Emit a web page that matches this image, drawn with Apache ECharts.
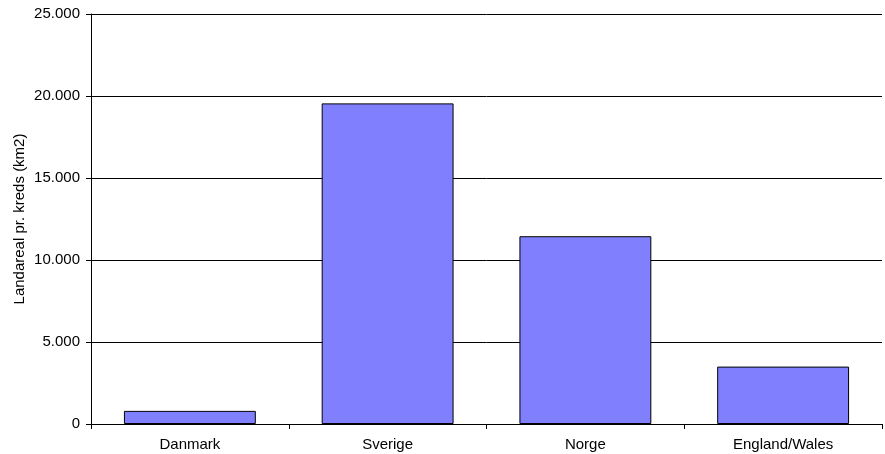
<!DOCTYPE html>
<html>
<head>
<meta charset="utf-8">
<script src="https://cdn.jsdelivr.net/npm/echarts@6/dist/echarts.min.js"></script>
<style>
html,body{margin:0;padding:0;background:#fff;}
#chart{width:885px;height:454px;}
</style>
</head>
<body>
<div id="chart"></div>
<script>
const categories = ['Danmark', 'Sverige', 'Norge', 'England/Wales'];
const values = [800, 19550, 11450, 3500];
const yAxisTitle = 'Landareal pr. kreds (km2)';

const chart = echarts.init(document.getElementById('chart'), null, {renderer: 'canvas'});
const font = 'Liberation Sans, Arial, sans-serif';
chart.setOption({
  animation: false,
  backgroundColor: '#ffffff',
  grid: {left: 91, right: 3, top: 14, bottom: 30, containLabel: false},
  xAxis: {
    type: 'category',
    data: categories,
    boundaryGap: true,
    axisLine: {show: true, lineStyle: {color: '#000', width: 1}},
    axisTick: {show: true, alignWithLabel: false, length: 5, lineStyle: {color: '#000'}},
    axisLabel: {color: '#000', fontFamily: font, fontSize: 15, margin: 13},
    splitLine: {show: false}
  },
  yAxis: {
    type: 'value',
    min: 0, max: 25000, interval: 5000,
    name: yAxisTitle,
    nameLocation: 'middle',
    nameGap: 71,
    nameMoveOverlap: false,
    nameRotate: 90,
    nameTextStyle: {color: '#000', fontFamily: font, fontSize: 15, verticalAlign: 'middle'},
    axisLine: {show: true, lineStyle: {color: '#000', width: 1}},
    axisTick: {show: true, length: 5, lineStyle: {color: '#000'}},
    axisLabel: {
      color: '#000', fontFamily: font, fontSize: 15, margin: 11,
      formatter: v => v.toLocaleString('de-DE')
    },
    splitLine: {show: true, lineStyle: {color: '#000', width: 1}}
  },
  series: [{
    type: 'bar',
    data: values,
    barCategoryGap: '33.3%',
    itemStyle: {color: '#8080FF', borderColor: '#000', borderWidth: 1}
  }]
});
</script>
</body>
</html>
